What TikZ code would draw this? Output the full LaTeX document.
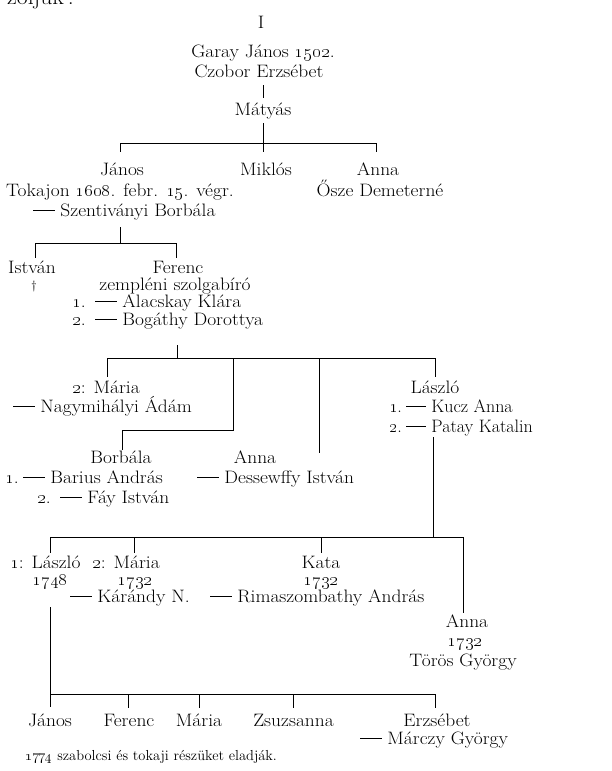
\documentclass[tikz,border=0pt]{standalone}
\usepackage{tikz}
\newcommand{\os}[1]{\oldstylenums{#1}}
\newcommand{\dsh}{\rule[0.27em]{1.1em}{0.075em}}
\begin{document}
\begin{tikzpicture}[x=1pt,y=-1pt,
  every node/.style={font=\fontsize{18}{20}\selectfont, inner sep=0pt},
  t/.style={anchor=base, xscale=1.08},
  tl/.style={anchor=base west, xscale=1.08},
  tn/.style={anchor=base west},
  ln/.style={line width=0.7pt, black}]
\useasboundingbox (0,0) rectangle (612,771);
% fragment at top
\node[tl, font=\fontsize{22}{24}\selectfont] (zol) at (7,5) {zoljuk\,.};
% generation 0
\node[t] (num) at (261,28) {I};
\node[t] (garay) at (263,57) {Garay János \os{1502}.};
\node[t] (czobor) at (259,77) {Czobor Erzsébet};
\coordinate (c0a) at (263,85); \coordinate (c0b) at (263,98);
\draw[ln] (c0a) -- (c0b);
\node[t] (matyas) at (263,115) {Mátyás};
\coordinate (m0) at (263,123); \coordinate (m1) at (263,143);
\coordinate (b1l) at (120,143); \coordinate (b1r) at (376,143);
\coordinate (b1lt) at (120,152); \coordinate (b1mt) at (263,152); \coordinate (b1rt) at (376,152);
\draw[ln] (m0) -- (m1);
\draw[ln] (b1l) -- (b1r);
\draw[ln] (b1l) -- (b1lt);
\draw[ln] (m1) -- (b1mt);
\draw[ln] (b1r) -- (b1rt);
\node[t] (janos1) at (122,175) {János};
\node[t] (miklos) at (266,175) {Miklós};
\node[t] (anna1) at (378,175) {Anna};
\node[t] (tokaj) at (120,196) {Tokajon \os{1608}. febr. \os{15}. végr.};
\node[t] (osze) at (380,196) {Ősze Demeterné};
\node[tl] (szent) at (33,216) {\dsh{} Szentiványi Borbála};
% János' children
\coordinate (j0) at (120,227); \coordinate (j1) at (120,243);
\coordinate (b2l) at (35,243); \coordinate (b2r) at (176,243);
\coordinate (b2lt) at (35,258); \coordinate (b2rt) at (176,258);
\draw[ln] (j0) -- (j1);
\draw[ln] (b2l) -- (b2r);
\draw[ln] (b2l) -- (b2lt);
\draw[ln] (b2r) -- (b2rt);
\node[t] (istvan) at (32,273) {István};
\node[t, font=\fontsize{12}{14}\selectfont] (dag) at (34,289) {\textdagger};
\node[t] (ferenc) at (178,273) {Ferenc};
\node[t] (zemp) at (175,290) {zempléni szolgabíró};
\node[tl] (n1a) at (72,307) {\os{1}.};
\node[tl] (alac) at (95,307) {\dsh{} Alacskay Klára};
\node[tl] (n1b) at (72,325) {\os{2}.};
\node[tl] (bog) at (95,325) {\dsh{} Bogáthy Dorottya};
% Ferenc' children
\coordinate (f0) at (177,345); \coordinate (f1) at (177,358);
\coordinate (b3l) at (107,358); \coordinate (b3a) at (233,358);
\coordinate (b3b) at (319,358); \coordinate (b3r) at (435,358);
\coordinate (b3lt) at (107,377); \coordinate (b3at) at (233,430);
\coordinate (b3bt) at (319,453); \coordinate (b3rt) at (435,377);
\coordinate (bb) at (122,430); \coordinate (bbt) at (122,450);
\draw[ln] (f0) -- (f1);
\draw[ln] (b3l) -- (b3r);
\draw[ln] (b3l) -- (b3lt);
\draw[ln] (b3a) -- (b3at) -- (bb) -- (bbt);
\draw[ln] (b3b) -- (b3bt);
\draw[ln] (b3r) -- (b3rt);
\node[t] (maria1) at (106,393) {\os{2}: Mária};
\node[tl] (nagy) at (13,412) {\dsh{} Nagymihályi Ádám};
\node[t] (borb) at (121,463) {Borbála};
\node[tl] (n2a) at (5,483) {\os{1}.};
\node[tl] (barius) at (23,483) {\dsh{} Barius András};
\node[tl] (n2b) at (37,503) {\os{2}.};
\node[tl] (fay) at (60,503) {\dsh{} Fáy István};
\node[t] (anna2) at (255,463) {Anna};
\node[tl] (dess) at (197,483) {\dsh{} Dessewffy István};
\node[t] (laszlo1) at (435,393) {László};
\node[tn] (n3a) at (389,412) {\os{1}.};
\node[tn] (kucz) at (406,412) {\dsh{} Kucz Anna};
\node[tn] (n3b) at (389,432) {\os{2}.};
\node[tn] (patay) at (406,432) {\dsh{} Patay Katalin};
% László's children
\coordinate (l0) at (433,437); \coordinate (l1) at (433,537);
\coordinate (b4l) at (50,537); \coordinate (b4a) at (134,537);
\coordinate (b4b) at (321,537); \coordinate (b4r) at (463,537);
\coordinate (b4lt) at (50,553); \coordinate (b4at) at (134,553);
\coordinate (b4bt) at (321,553); \coordinate (b4rt) at (463,613);
\draw[ln] (l0) -- (l1);
\draw[ln] (b4l) -- (b4r);
\draw[ln] (b4l) -- (b4lt);
\draw[ln] (b4a) -- (b4at);
\draw[ln] (b4b) -- (b4bt);
\draw[ln] (b4r) -- (b4rt);
\node[tl] (laszlo2) at (10,568) {\os{1}: László};
\node[tl] (maria2) at (92,568) {\os{2}: Mária};
\node[t] (y1748) at (50,585) {\os{1748}};
\node[t] (y1732a) at (135,585) {\os{1732}};
\node[tl] (karandy) at (70,602) {\dsh{} Kárándy N.};
\node[t] (kata) at (321,568) {Kata};
\node[t] (y1732b) at (321,585) {\os{1732}};
\node[tl] (rima) at (210,602) {\dsh{} Rimaszombathy András};
\node[t] (anna3) at (467,627) {Anna};
\node[t] (y1732c) at (465,646) {\os{1732}};
\node[t] (toros) at (463,666) {Törös György};
% László (1748) children
\coordinate (s0) at (50,607); \coordinate (s1) at (50,694);
\coordinate (s1t) at (50,707);
\coordinate (b5r) at (435,694);
\coordinate (b5a) at (128,694); \coordinate (b5b) at (199,694); \coordinate (b5c) at (293,694);
\coordinate (b5at) at (128,708); \coordinate (b5bt) at (199,708); \coordinate (b5ct) at (293,708);
\coordinate (b5rt) at (435,708);
\draw[ln] (s0) -- (s1t);
\draw[ln] (s1) -- (b5r);
\draw[ln] (b5a) -- (b5at);
\draw[ln] (b5b) -- (b5bt);
\draw[ln] (b5c) -- (b5ct);
\draw[ln] (b5r) -- (b5rt);
\node[t] (janos2) at (50,726) {János};
\node[t] (ferenc2) at (129,726) {Ferenc};
\node[t] (maria3) at (199,726) {Mária};
\node[t] (zsuzsa) at (293.5,726) {Zsuzsanna};
\node[t] (erzs) at (437,726) {Erzsébet};
\node[tl] (marczy) at (360,744) {\dsh{} Márczy György};
\node[tn, font=\fontsize{14.5}{16}\selectfont] (note) at (25,760) {\os{1774} szabolcsi és tokaji részüket eladják.};
\end{tikzpicture}
\end{document}
